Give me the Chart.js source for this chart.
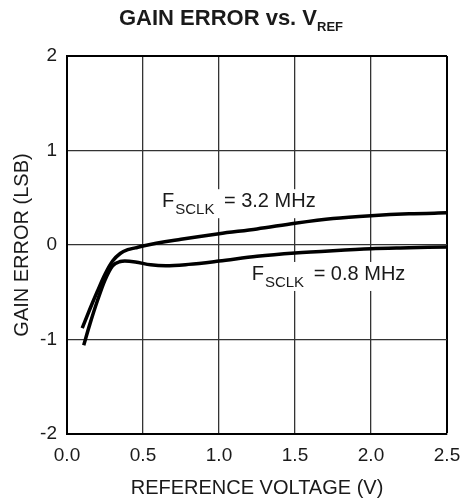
<!DOCTYPE html>
<html lang="en">
<head>
  <meta charset="UTF-8" />
  <title>Gain Error vs. VREF</title>
  <script src="https://cdn.jsdelivr.net/npm/chart.js"></script>
  <style>
    html, body {
      margin: 0;
      padding: 0;
      background: #ffffff;
    }
    canvas {
      display: block;
    }
  </style>
</head>
<body>
  <canvas id="gainChart" width="462" height="502"></canvas>

  <script>
    // values
    const vref32 = [0.10, 0.15, 0.20, 0.25, 0.30, 0.35, 0.40, 0.45, 0.50, 0.75, 1.00, 1.25, 1.50, 1.75, 2.00, 2.25, 2.50];
    const err32  = [-0.88, -0.68, -0.49, -0.31, -0.17, -0.09, -0.05, -0.03, -0.01, 0.06, 0.12, 0.17, 0.23, 0.28, 0.31, 0.33, 0.34];

    const vref08 = [0.11, 0.15, 0.20, 0.25, 0.30, 0.35, 0.38, 0.45, 0.55, 0.65, 0.80, 1.00, 1.25, 1.50, 1.75, 2.00, 2.25, 2.50];
    const err08  = [-1.06, -0.84, -0.59, -0.37, -0.22, -0.175, -0.17, -0.18, -0.21, -0.22, -0.205, -0.17, -0.12, -0.085, -0.06, -0.04, -0.03, -0.02];

    const xTicks = [0, 0.5, 1.0, 1.5, 2.0, 2.5];
    const yTicks = [-2, -1, 0, 1, 2];

    // curve labels: main text, subscript, rest, anchor in data units
    const curveLabels = [
      { main: 'F', sub: 'SCLK', rest: ' = 3.2 MHz', x: 0.625, y: 0.40 },
      { main: 'F', sub: 'SCLK', rest: ' = 0.8 MHz', x: 1.215, y: -0.37 }
    ];

    const FONT = "'Liberation Sans', Arial, Helvetica, sans-serif";
    const INK = '#1a1a1a';

    const toPoints = (xs, ys) => xs.map((x, i) => ({ x: x, y: ys[i] }));

    // draws a label with subscript on a white box
    const labelPlugin = {
      id: 'curveLabels',
      beforeDatasetsDraw(chart) {
        const ctx = chart.ctx;
        const xs = chart.scales.x, ys = chart.scales.y;
        ctx.save();
        curveLabels.forEach(l => {
          const px = xs.getPixelForValue(l.x);
          const py = ys.getPixelForValue(l.y);
          ctx.font = '20px ' + FONT;
          const w1 = ctx.measureText(l.main).width;
          const w3 = ctx.measureText(l.rest).width;
          ctx.font = '15px ' + FONT;
          const w2 = ctx.measureText(l.sub).width + 5;
          ctx.fillStyle = '#ffffff';
          ctx.fillRect(px - 2, py - 18, w1 + w2 + w3 + 4, 29);

          ctx.fillStyle = INK;
          ctx.textBaseline = 'alphabetic';
          ctx.textAlign = 'left';
          ctx.font = '20px ' + FONT;
          ctx.fillText(l.main, px, py);
          ctx.font = '15px ' + FONT;
          ctx.fillText(l.sub, px + w1 + 1, py + 7);
          ctx.font = '20px ' + FONT;
          ctx.fillText(l.rest, px + w1 + w2, py);
        });
        ctx.restore();
      },
      afterDraw(chart) {
        // title with subscript
        const ctx = chart.ctx;
        ctx.save();
        ctx.fillStyle = INK;
        ctx.textBaseline = 'alphabetic';
        ctx.textAlign = 'left';
        const main = 'GAIN ERROR vs. V';
        const sub = 'REF';
        ctx.font = 'bold 22px ' + FONT;
        const wm = ctx.measureText(main).width;
        ctx.font = 'bold 13px ' + FONT;
        const ws = ctx.measureText(sub).width;
        const x0 = chart.width / 2 - (wm + ws) / 2;
        ctx.font = 'bold 22px ' + FONT;
        ctx.fillText(main, x0, 25);
        ctx.font = 'bold 13px ' + FONT;
        ctx.fillText(sub, x0 + wm, 31);
        ctx.restore();
      }
    };

    const edgeWidth = (ctx, max) => (ctx.tick && ctx.tick.value === max ? 2 : 1.3);
    const edgeColor = (ctx, max) => (ctx.tick && ctx.tick.value === max ? '#000000' : '#333333');

    new Chart(document.getElementById('gainChart').getContext('2d'), {
      type: 'line',
      data: {
        datasets: [
          {
            label: 'FSCLK = 3.2 MHz',
            data: toPoints(vref32, err32),
            borderColor: '#000000',
            borderWidth: 3.5,
            pointRadius: 0,
            cubicInterpolationMode: 'monotone',
            fill: false
          },
          {
            label: 'FSCLK = 0.8 MHz',
            data: toPoints(vref08, err08),
            borderColor: '#000000',
            borderWidth: 3.5,
            pointRadius: 0,
            cubicInterpolationMode: 'monotone',
            fill: false
          }
        ]
      },
      options: {
        responsive: false,
        animation: false,
        devicePixelRatio: 1,
        layout: { padding: { top: 56, right: 15, left: 0, bottom: 0 } },
        plugins: {
          legend: { display: false },
          title: { display: false },
          tooltip: { enabled: false }
        },
        scales: {
          x: {
            type: 'linear',
            min: 0,
            max: 2.5,
            afterFit: s => { s.height = 68; s.paddingLeft = 0; s.paddingRight = 0; },
            afterBuildTicks: s => { s.ticks = xTicks.map(v => ({ value: v })); },
            grid: {
              drawTicks: false,
              color: c => edgeColor(c, 2.5),
              lineWidth: c => edgeWidth(c, 2.5)
            },
            border: { color: '#000000', width: 2 },
            ticks: {
              padding: 10,
              color: INK,
              font: { family: FONT, size: 19 },
              callback: v => v.toFixed(1)
            },
            title: {
              display: true,
              text: 'REFERENCE VOLTAGE (V)',
              color: INK,
              font: { family: FONT, size: 20 },
              padding: { top: 0, bottom: 2 }
            }
          },
          y: {
            type: 'linear',
            min: -2,
            max: 2,
            afterFit: s => { s.width = 67; s.paddingTop = 0; s.paddingBottom = 0; },
            afterBuildTicks: s => { s.ticks = yTicks.map(v => ({ value: v })); },
            grid: {
              drawTicks: false,
              color: c => edgeColor(c, 2),
              lineWidth: c => edgeWidth(c, 2)
            },
            border: { color: '#000000', width: 2 },
            ticks: {
              padding: 10,
              color: INK,
              font: { family: FONT, size: 19 },
              callback: v => String(v)
            },
            title: {
              display: true,
              text: 'GAIN ERROR (LSB)',
              color: INK,
              font: { family: FONT, size: 20 },
              padding: { top: 10, bottom: 0 }
            }
          }
        }
      },
      plugins: [labelPlugin]
    });
  </script>
</body>
</html>
